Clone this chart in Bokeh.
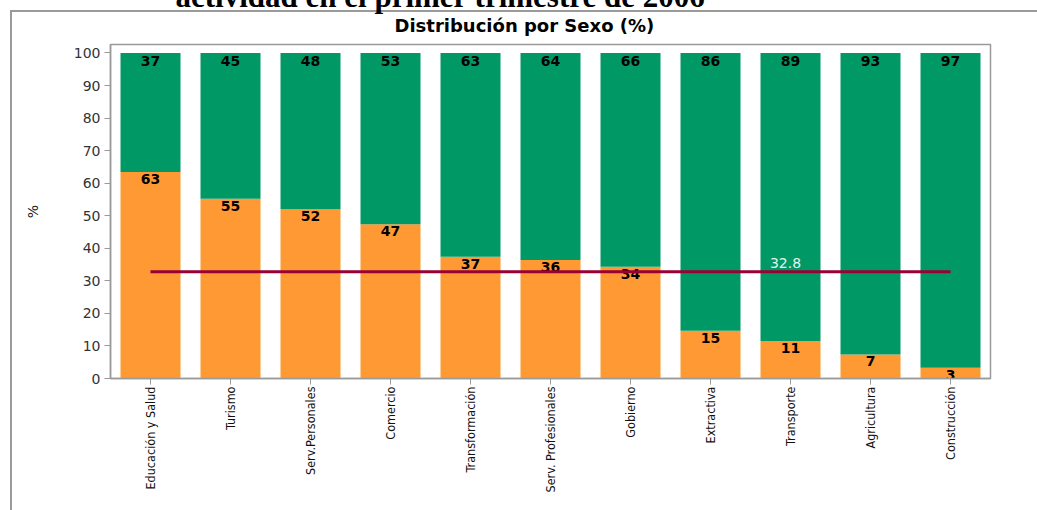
import math
from bokeh.plotting import figure
from bokeh.models import (FactorRange, Range1d, Legend, LegendItem, Title,
                          ColumnDataSource, FixedTicker)
from bokeh.core.properties import value
from bokeh.embed import file_html
from bokeh.resources import INLINE

# ---------------- data ----------------
categorias = ["Educación y Salud", "Turismo", "Serv.Personales", "Comercio", "Transformación",
              "Serv. Profesionales", "Gobierno", "Extractiva", "Transporte", "Agricultura",
              "Construcción"]
mujeres = [63.4, 55.2, 52.0, 47.4, 37.4, 36.4, 34.3, 14.7, 11.5, 7.4, 3.3]
total = [100, 100, 100, 100, 100, 100, 100, 100, 100, 100, 100]
mujeres_etiqueta = [63, 55, 52, 47, 37, 36, 34, 15, 11, 7, 3]
hombres_etiqueta = [37, 45, 48, 53, 63, 64, 66, 86, 89, 93, 97]
promedio_mujeres = 32.8
y_ticks = [0, 10, 20, 30, 40, 50, 60, 70, 80, 90, 100]

titulo = "actividad en el primer trimestre de 2006"
subtitulo = "Distribución por Sexo (%)"

NARROW = "'Liberation Sans Narrow', 'DejaVu Sans Condensed', sans-serif"
SANS = "'DejaVu Sans', sans-serif"
GRAY = "#9a9a9a"
SHIFT = 20  # part of the canvas pushed above the page top (clips the page title)

src = ColumnDataSource(dict(
    cat=categorias, muj=mujeres, tot=total,
    ml=[str(v) for v in mujeres_etiqueta],
    hl=[str(v) for v in hombres_etiqueta],
))

p = figure(x_range=FactorRange(factors=categorias), y_range=Range1d(0, 102.6),
           width=1037, height=510 + SHIFT, frame_width=880, frame_height=334,
           output_backend="svg", toolbar_location=None,
           min_border_left=110, min_border_right=47, min_border_top=44 + SHIFT,
           min_border_bottom=132)
p.margin = (-SHIFT, 0, 0, 0)
p.styles = {
    "background": (f"linear-gradient({GRAY},{GRAY}) 10px {10 + SHIFT}px / 100% 2px no-repeat, "
                   f"linear-gradient({GRAY},{GRAY}) 10px {10 + SHIFT}px / 2px 100% no-repeat, "
                   "white"),
}
p.border_fill_alpha = 0
p.background_fill_color = "white"
p.outline_line_color = GRAY
p.outline_line_width = 1.5
p.xgrid.visible = False
p.ygrid.visible = False

# titles: page title outermost (p.title), chart subtitle next to the frame
p.title = Title(text=titulo, align="left", offset=65, standoff=-19, vertical_align="bottom",
                text_font="'Liberation Serif', serif", text_font_style="bold",
                text_font_size="31px", text_color="black")
p.add_layout(Title(text=subtitulo, align="left", offset=284, standoff=17,
                   vertical_align="bottom", text_font=SANS, text_font_style="bold",
                   text_font_size="18px", text_color="black"), "above")

r_m = p.vbar(x="cat", top="muj", bottom=0, width=0.75, source=src,
             fill_color="#FF9933", line_color=None)
r_h = p.vbar(x="cat", top="tot", bottom="muj", width=0.75, source=src,
             fill_color="#009966", line_color=None)

p.text(x="cat", y="tot", text="hl", source=src, text_align="center",
       text_baseline="top", y_offset=3, text_font=value("DejaVu Sans"),
       text_font_style="bold", text_font_size="14px", text_color="black")
p.text(x="cat", y="muj", text="ml", source=src, text_align="center",
       text_baseline="top", y_offset=2, text_font=value("DejaVu Sans"),
       text_font_style="bold", text_font_size="14px", text_color="black")

r_p = p.line(x=[categorias[0], categorias[-1]], y=[promedio_mujeres, promedio_mujeres],
             line_color="#990033", line_width=3)
p.text(x=[categorias[8]], y=[promedio_mujeres], text=[str(promedio_mujeres)],
       text_align="center", text_baseline="bottom", y_offset=-4, x_offset=-5,
       text_font=value("DejaVu Sans"), text_font_size="14px", text_color="#e6f2ec")

# axes
p.yaxis.ticker = FixedTicker(ticks=y_ticks)
p.yaxis.axis_label = "%"
p.yaxis.axis_label_text_font_style = "normal"
p.yaxis.axis_label_text_font = SANS
p.yaxis.axis_label_text_font_size = "14px"
p.yaxis.axis_label_text_color = "#222222"
p.yaxis.axis_label_standoff = 30
p.yaxis.major_label_text_font = SANS
p.yaxis.major_label_text_font_size = "14px"
p.yaxis.major_label_text_color = "#333333"
p.yaxis.major_label_standoff = 4
p.yaxis.minor_tick_line_color = None
for ax in (p.xaxis, p.yaxis):
    ax.axis_line_color = GRAY
    ax.axis_line_width = 1.5
    ax.major_tick_line_color = GRAY
    ax.major_tick_in = 0
    ax.major_tick_out = 6
p.xaxis.major_label_orientation = math.pi / 2
p.xaxis.major_label_text_font = NARROW
p.xaxis.major_label_text_font_size = "12.5px"
p.xaxis.major_label_text_color = "#111111"
p.xaxis.major_label_standoff = 2

# legend below the axis; right-aligned and as wide as needed so it starts near x=20
legend = Legend(items=[LegendItem(label="Mujeres", renderers=[r_m]),
                       LegendItem(label="Hombres", renderers=[r_h]),
                       LegendItem(label="Promedio de Mujeres", renderers=[r_p])],
                orientation="horizontal", location="top_right",
                glyph_width=26, glyph_height=16, label_height=16,
                label_standoff=12, label_width=244,
                spacing=62, padding=0, margin=0, border_line_color=None,
                background_fill_alpha=0, label_text_font="'Liberation Sans', sans-serif",
                label_text_font_size="14px", label_text_color="black")
p.add_layout(legend, "below")

open("out.html", "w").write(file_html(p, INLINE))
